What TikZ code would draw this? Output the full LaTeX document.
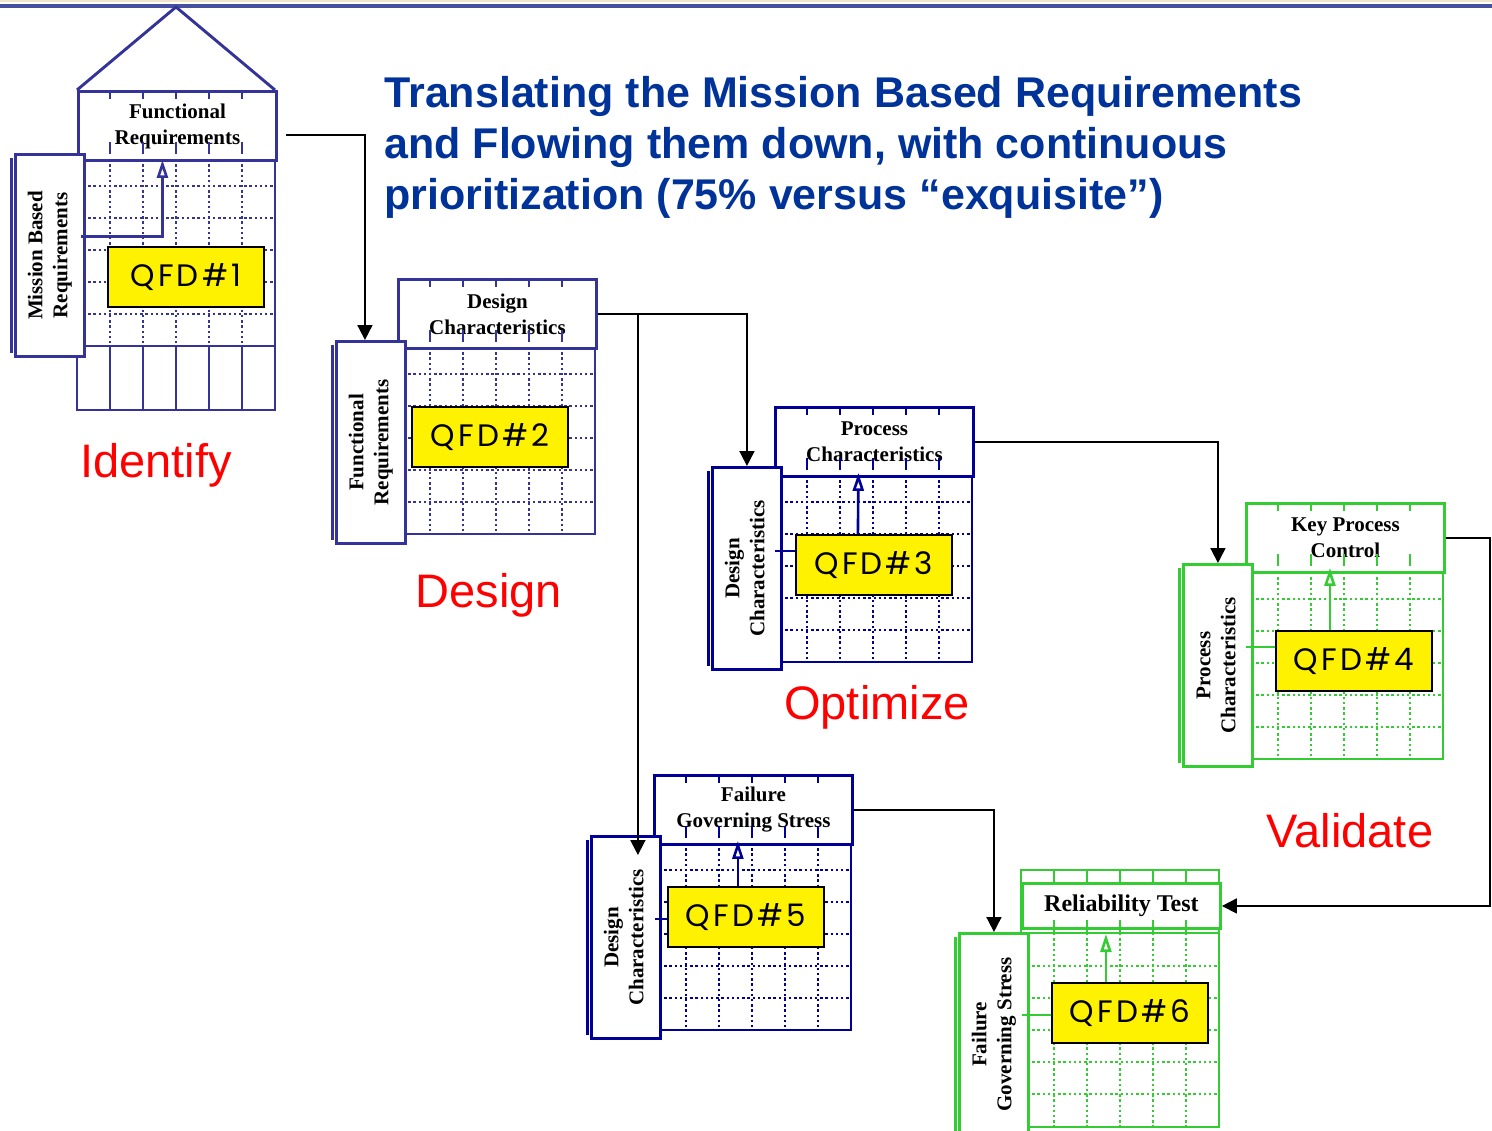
\documentclass[tikz,border=0pt]{standalone}
\usepackage{fontspec}
\usepackage{graphicx}
\setmainfont{Liberation Serif}
\setsansfont{Liberation Sans}
\newfontfamily\qfdfont[LetterSpace=10]{Poppins}
\usepackage{tikz}
\usetikzlibrary{arrows.meta,calc,positioning}
\definecolor{Indigo}{RGB}{51,51,153}
\definecolor{Navy}{RGB}{0,0,153}
\definecolor{Leaf}{RGB}{51,204,51}
\definecolor{Heading}{RGB}{0,51,153}
\definecolor{Rule}{RGB}{70,80,160}
\definecolor{Sand}{RGB}{240,228,205}

% dotted matrix below a header: #1 left x, #2 top y, #3 colour
\newcommand{\qfdgrid}[3]{%
  \foreach \k in {1,...,5} {
    \draw[#3,gridline] (#1+33*\k,#2) -- (#1+33*\k,#2+187);
    \draw[#3,gridline] (#1+6,#2-5+32*\k) -- (#1+198,#2-5+32*\k);
  }
  \draw[#3,rim] (#1+6,#2) rectangle (#1+198,#2+187);
}
% column marks on a header: #1 left x, #2 top y, #3 colour
\newcommand{\qfdticks}[3]{%
  \foreach \k in {1,...,5} {
    \draw[#3,rim] (#1+33*\k,#2) -- ++(0,9);
    \draw[#3,rim] (#1+33*\k,#2+52) -- ++(0,12);
  }
}
\newcommand{\sidetext}[2]{\rotatebox{90}{\begin{tabular}{@{}c@{}}#1\\#2\end{tabular}}}

\begin{document}
\begin{tikzpicture}[x=0.5pt,y=-0.5pt,>=Latex,
  rim/.style={line width=1.45pt},
  gridline/.style={line width=1.2pt,dash pattern=on 1.2pt off 1.4pt},
  hdr/.style={draw=#1,rim,fill=white,anchor=north west,inner sep=0pt,minimum width=99pt,minimum height=34.5pt,align=center,font=\bfseries\fontsize{10.5}{13}\selectfont},
  side/.style={draw=#1,rim,fill=white,anchor=north west,inner sep=0pt,minimum width=34.5pt,minimum height=101pt,font=\bfseries\fontsize{10.5}{12.5}\selectfont},
  qfd/.style={draw=black,line width=0.9pt,fill=yellow,anchor=north west,inner sep=0pt,minimum width=78pt,minimum height=30pt,font=\qfdfont\fontsize{15.5}{15.5}\selectfont},
  inarr/.style={line width=1.3pt,-{Triangle[open,length=9pt,width=5.5pt]}},
  stub/.style={line width=1.3pt},
  conn/.style={line width=0.9pt,-{Triangle[length=7.5pt,width=7.5pt]}},
  stage/.style={text=red,anchor=base,inner sep=0pt,font=\sffamily\fontsize{23.5}{28}\selectfont},
  heading/.style={text=Heading,anchor=base west,inner sep=0pt,font=\sffamily\bfseries\fontsize{21.5}{25.5}\selectfont}]

  \fill[white] (0,0) rectangle (1492,1130);
  \useasboundingbox (0,0) rectangle (1492,1130);
  \draw[Sand,line width=1pt] (0,1) -- (1492,1);
  \draw[Rule,line width=2pt] (0,6) -- (1492,6);

  % title
  \node[heading] (tline1) at (384,107) {Translating the Mission Based Requirements};
  \node[heading] (tline2) at (384,158) {and Flowing them down, with continuous};
  \node[heading] (tline3) at (384,209) {prioritization (75\% versus “exquisite”)};

  % QFD #1, the house
  \draw[Indigo,rim,line join=miter] (77,90) -- (176,7) -- (275,90);
  \qfdgrid{77}{159}{Indigo}
  \draw[Indigo,rim] (77,159) -- (77,410) -- (275,410) -- (275,346);
  \foreach \k in {1,...,5}
    \draw[Indigo,rim] (77+33*\k,346) -- ++(0,64);
  \node[hdr=Indigo] (h1) at (77,90) {Functional\\Requirements};
  \qfdticks{77}{90}{Indigo}
  \node[side=Indigo] (l1) at (14,153) {\sidetext{Mission Based}{Requirements}};
  \node[qfd] (q1) at (107,246) {QFD\#1};
  \draw[Indigo,inarr] ($(l1.east)+(-5,-19)$) -| ($(h1.south)+(-15,-2)$);

  % QFD #2
  \qfdgrid{397}{347}{Indigo}
  \node[hdr=Indigo] (h2) at (397,278) {Design\\Characteristics};
  \qfdticks{397}{278}{Indigo}
  \node[side=Indigo] (l2) at (335,340) {\sidetext{Functional}{Requirements}};
  \node[qfd] (q2) at (411,406) {QFD\#2};

  % QFD #3
  \qfdgrid{774}{475}{Navy}
  \node[hdr=Navy] (h3) at (774,406) {Process\\Characteristics};
  \qfdticks{774}{406}{Navy}
  \node[side=Navy] (l3) at (711,466) {\sidetext{Design}{Characteristics}};
  \node[qfd] (q3) at (795,534) {QFD\#3};
  \draw[Navy,inarr] ($(q3.north)+(-16,0)$) -- ($(h3.south)+(-16,-5)$);
  \draw[Navy,stub] ($(q3.west)+(0,-14)$) -- ++(-20,0);

  % QFD #4
  \qfdgrid{1245}{572}{Leaf}
  \node[hdr=Leaf] (h4) at (1245,502) {Key Process\\Control};
  \qfdticks{1245}{502}{Leaf}
  \node[side=Leaf] (l4) at (1182,563) {\sidetext{Process}{Characteristics}};
  \node[qfd] (q4) at (1275,630) {QFD\#4};
  \draw[Leaf,inarr] ($(q4.north)+(-24,0)$) -- ($(q4.north |- h4.south)+(-24,-6)$);
  \draw[Leaf,stub] ($(q4.west)+(0,-14)$) -- ++(-29,0);

  % QFD #5
  \qfdgrid{653}{843}{Navy}
  \node[hdr=Navy] (h5) at (653,774) {Failure\\Governing Stress};
  \qfdticks{653}{774}{Navy}
  \node[side=Navy] (l5) at (590,835) {\sidetext{Design}{Characteristics}};
  \node[qfd] (q5) at (667,886) {QFD\#5};
  \draw[Navy,inarr] ($(q5.north)+(-8,0)$) -- ($(q5.north |- h5.south)+(-8,-5)$);
  \draw[Navy,stub] ($(q5.west)+(0,2)$) -- ++(-12,0);

  % QFD #6
  \foreach \k in {1,...,5} {
    \draw[Leaf,gridline] (1021+33*\k,933) -- (1021+33*\k,1127);
    \draw[Leaf,gridline] (1027,934+32*\k) -- (1219,934+32*\k);
  }
  \draw[Leaf,rim] (1027,933) rectangle (1219,1127);
  \draw[Leaf,rim] (1021,870) rectangle (1219,933);
  \coordinate (gtop6) at (1021,933);
  \node[hdr=Leaf,minimum height=22.5pt,font=\bfseries\fontsize{12}{14}\selectfont] (h6) at (1021,882) {Reliability Test};
  \foreach \k in {1,...,5} {
    \draw[Leaf,rim] (1021+33*\k,870) -- ++(0,12);
    \draw[Leaf,rim] (1021+33*\k,920) -- ++(0,13);
  }
  \node[side=Leaf] (l6) at (958,932) {\sidetext{Failure}{Governing Stress}};
  \node[qfd] (q6) at (1051,982) {QFD\#6};
  \draw[Leaf,inarr] ($(q6.north)+(-24,0)$) -- ($(q6.north |- gtop6)+(-24,1)$);
  \draw[Leaf,stub] ($(q6.west)+(0,2)$) -- ++(-29,0);

  % doubled left edge of the side boxes
  \foreach \n/\c in {l1/Indigo,l2/Indigo,l3/Navy,l4/Leaf,l5/Navy,l6/Leaf}
    \draw[\c,rim] ([xshift=-1.4pt,yshift=-2.5pt]\n.north west) -- ([xshift=-1.4pt,yshift=2.5pt]\n.south west);

  % flow down between the matrices
  \coordinate (split) at ($(h2.east)+(40,0)$);
  \draw[conn] ($(h1.east)+(8,9)$) -| ($(l2.north)+(-6,0)$);
  \draw[conn] (h2.east) -| (l3.north);
  \draw[conn] (split) -- ($(split |- l5.north)+(0,20)$);
  \draw[conn] (h3.east) -| (l4.north);
  \draw[conn] (h4.east) -- ++(44,0) |- (h6.east);
  \draw[conn] (h5.east) -| (l6.north);

  % phases
  \node[stage] (identify) at (156,477) {Identify};
  \node[stage] (design) at (489,607) {Design};
  \node[stage] (optimize) at (877,719) {Optimize};
  \node[stage] (validate) at (1350,847) {Validate};
\end{tikzpicture}
\end{document}
